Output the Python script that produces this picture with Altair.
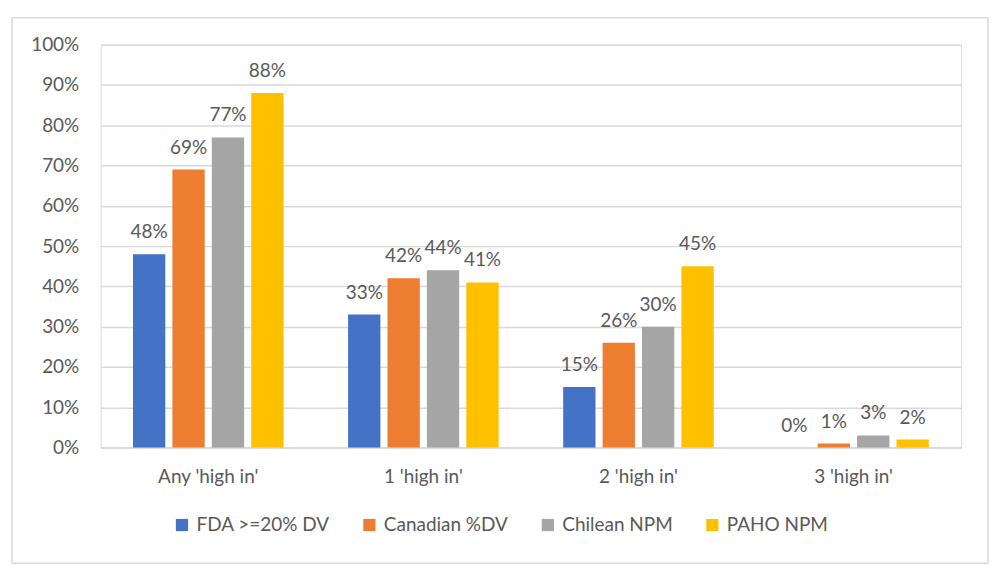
import altair as alt
import pandas as pd

categories = ["Any 'high in'", "1 'high in'", "2 'high in'", "3 'high in'"]
series = ["FDA >=20% DV", "Canadian %DV", "Chilean NPM", "PAHO NPM"]
fda = [0.48, 0.33, 0.15, 0.00]
canadian = [0.69, 0.42, 0.26, 0.01]
chilean = [0.77, 0.44, 0.30, 0.03]
paho = [0.88, 0.41, 0.45, 0.02]
colors = ["#4472C4", "#ED7D31", "#A5A5A5", "#FFC000"]

rows = []
for s, vals in zip(series, [fda, canadian, chilean, paho]):
    for c, v in zip(categories, vals):
        rows.append({"category": c, "series": s, "value": v})
df = pd.DataFrame(rows)

FONT = "Lato"
TXT = "#595959"
FS = 19

x = alt.X("category:N", sort=categories, title=None,
          scale=alt.Scale(paddingInner=0.3, paddingOuter=0.15),
          axis=alt.Axis(labelAngle=0, labelFontSize=FS, labelColor=TXT, labelFont=FONT,
                        labelPadding=20, ticks=False, domainColor="#d9d9d9", domainWidth=1.5))
xo = alt.XOffset("series:N", sort=series, scale=alt.Scale(paddingInner=0.18, paddingOuter=0))
y = alt.Y("value:Q", title=None,
          scale=alt.Scale(domain=[0, 1]),
          axis=alt.Axis(format=".0%", values=[i / 10 for i in range(11)], labelFontSize=FS,
                        labelColor=TXT, labelFont=FONT, ticks=False, domain=False,
                        gridColor="#d9d9d9", gridWidth=1.5, labelPadding=22))

bars = alt.Chart(df).mark_bar().encode(
    x=x, xOffset=xo, y=y,
    color=alt.Color("series:N", sort=series,
                    scale=alt.Scale(domain=series, range=colors),
                    legend=alt.Legend(title=None, orient="none", direction="horizontal",
                                      legendX=72, legendY=472, symbolType="square",
                                      symbolSize=150, symbolStrokeWidth=0,
                                      labelFontSize=FS, labelColor=TXT, labelFont=FONT,
                                      columnPadding=30, labelOffset=5)),
)

labels = alt.Chart(df).mark_text(baseline="alphabetic", dy=-16, fontSize=FS, color=TXT, font=FONT).encode(
    x=x, xOffset=xo, y=y,
    text=alt.Text("value:Q", format=".0%"),
)

border = alt.Chart(pd.DataFrame({"a": [0]})).mark_rect(
    fill=None, stroke="#d9d9d9", strokeWidth=1.5, clip=False
).encode(x=alt.value(-89), x2=alt.value(890), y=alt.value(-27), y2=alt.value(520))

chart = alt.layer(border, bars, labels).properties(
    width=863, height=404, padding={"left": 3, "top": 8, "right": 3, "bottom": 3}
).configure_view(stroke=None).configure(background="white")

chart.save("out.html", embed_options={"renderer": "svg", "actions": False})
